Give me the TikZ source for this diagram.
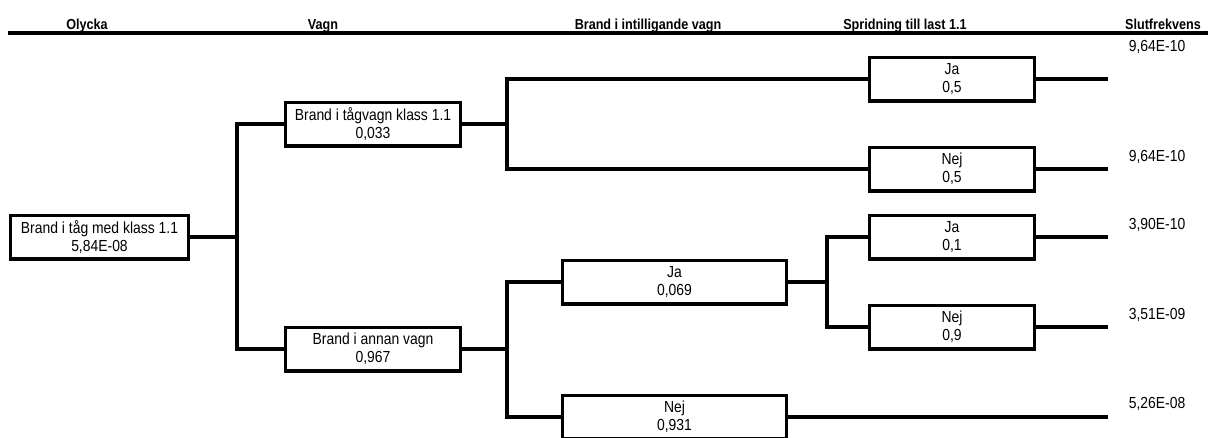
\documentclass[tikz,border=0pt]{standalone}
\usepackage{fontspec}
\setmainfont{Liberation Sans}[FakeStretch=0.87]
\begin{document}
\begin{tikzpicture}[x=1pt,y=-1pt,
  box/.style={draw,line width=3.4pt,minimum height=43.6pt,inner sep=0pt,
    align=center,font=\fontsize{16}{18}\selectfont},
  wire/.style={line width=3.4pt},
  head/.style={font=\bfseries\fontsize{14.5}{16}\selectfont,anchor=base},
  freq/.style={font=\fontsize{16}{18}\selectfont}]
\useasboundingbox (0,0) rectangle (1208,437);
\clip (0,0) rectangle (1208,437);

% column headings
\node[head] (h1) at (87,29)   {Olycka};
\node[head] (h2) at (323,29)  {Vagn};
\node[head] (h3) at (648,29)  {Brand i intilligande vagn};
\node[head] (h4) at (905,29)  {Spridning till last 1.1};
\node[head] (h5) at (1163,29) {Slutfrekvens};
\coordinate (hl) at (8,33);
\coordinate (hr) at (1208,33);
\draw[wire] (hl) -- (hr);

% event boxes
\node[box,minimum width=178pt] (R)  at (99.5,237) {Brand i tåg med klass 1.1\\5,84E-08};
\node[box,minimum width=175pt] (V1) at (373,124)  {Brand i tågvagn klass 1.1\\0,033};
\node[box,minimum width=175pt] (V2) at (373,349)  {Brand i annan vagn\\0,967};
\node[box,minimum width=224pt] (B1) at (674.5,282) {Ja\\0,069};
\node[box,minimum width=224pt] (B2) at (674.5,417) {Nej\\0,931};
\node[box,minimum width=165pt] (S1) at (952,79)   {Ja\\0,5};
\node[box,minimum width=165pt] (S2) at (952,169)  {Nej\\0,5};
\node[box,minimum width=165pt] (S3) at (952,237)  {Ja\\0,1};
\node[box,minimum width=165pt] (S4) at (952,327)  {Nej\\0,9};

% branch points
\coordinate (j1) at (237,237);
\coordinate (j2) at (507,124);
\coordinate (j3) at (507,349);
\coordinate (j4) at (827,282);

\draw[wire] (R.east) -- (j1);
\draw[wire] (V1.west) -| (j1) |- (V2.west);
\draw[wire] (V1.east) -- (j2);
\draw[wire] (S1.west) -| (j2) |- (S2.west);
\draw[wire] (V2.east) -- (j3);
\draw[wire] (B1.west) -| (j3) |- (B2.west);
\draw[wire] (B1.east) -- (j4);
\draw[wire] (S3.west) -| (j4) |- (S4.west);

% outcome stubs and final frequencies
\coordinate (e1) at (1108,79);
\coordinate (e2) at (1108,169);
\coordinate (e3) at (1108,237);
\coordinate (e4) at (1108,327);
\coordinate (e5) at (1108,417);
\draw[wire] (S1.east) -- (e1);
\draw[wire] (S2.east) -- (e2);
\draw[wire] (S3.east) -- (e3);
\draw[wire] (S4.east) -- (e4);
\draw[wire] (B2.east) -- (e5);
\node[freq] (f1) at (1157,47)  {9,64E-10};
\node[freq] (f2) at (1157,157) {9,64E-10};
\node[freq] (f3) at (1157,225) {3,90E-10};
\node[freq] (f4) at (1157,315) {3,51E-09};
\node[freq] (f5) at (1157,404) {5,26E-08};
\end{tikzpicture}
\end{document}
